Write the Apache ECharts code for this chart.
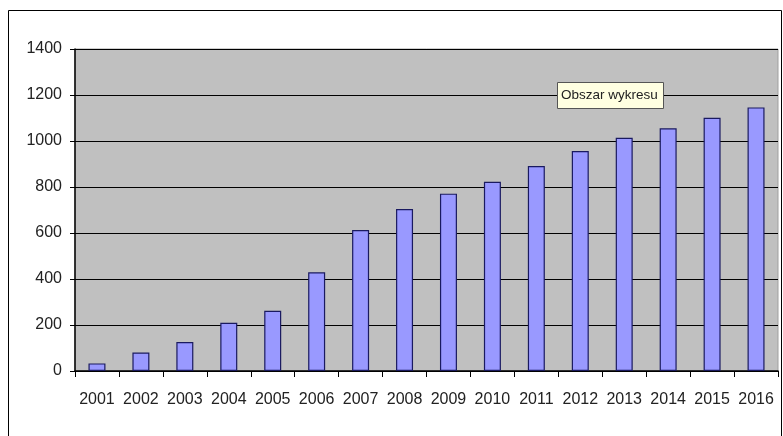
<!DOCTYPE html>
<html>
<head>
<meta charset="utf-8">
<script src="https://cdn.jsdelivr.net/npm/echarts@6/dist/echarts.min.js"></script>
<style>
html,body{margin:0;padding:0;background:#fff;}
#c{width:783px;height:436px;}
</style>
</head>
<body>
<div id="c"></div>
<script>
const categories = ['2001','2002','2003','2004','2005','2006','2007','2008','2009','2010','2011','2012','2013','2014','2015','2016'];
const values = [33, 80, 126, 210, 262, 429, 613, 704, 771, 823, 891, 956, 1014, 1055, 1101, 1146];
const yTicks = [0, 200, 400, 600, 800, 1000, 1200, 1400];

const labelFont = '"Liberation Sans", Arial, sans-serif';
const chart = echarts.init(document.getElementById('c'), null, {renderer: 'canvas'});
chart.setOption({
  animation: false,
  backgroundColor: '#ffffff',
  grid: {left: 75, top: 49, right: 5, bottom: 65, show: true, backgroundColor: '#c0c0c0', borderColor: '#a0a0a0', borderWidth: 1},
  xAxis: {
    type: 'category',
    data: categories,
    axisLine: {lineStyle: {color: '#000', width: 1.5}},
    axisTick: {show: true, length: 6, lineStyle: {color: '#000'}},
    axisLabel: {color: '#222', fontFamily: labelFont, fontSize: 16, margin: 21, interval: 0}
  },
  yAxis: {
    type: 'value',
    min: yTicks[0],
    max: yTicks[yTicks.length - 1],
    interval: 200,
    axisLine: {show: true, lineStyle: {color: '#000', width: 1.5}},
    axisTick: {show: true, length: 5, lineStyle: {color: '#000'}},
    splitLine: {lineStyle: {color: '#000', width: 1.2}},
    axisLabel: {color: '#222', fontFamily: labelFont, fontSize: 16, margin: 13, formatter: v => String(v)}
  },
  series: [{
    type: 'bar',
    data: values,
    barWidth: 17,
    itemStyle: {color: '#9999ff', borderColor: '#1a1a60', borderWidth: 1.2}
  }],
  graphic: [
    {type: 'rect', z: 100, shape: {x: 8.5, y: 10.5, width: 773, height: 440}, style: {fill: 'none', stroke: '#000', lineWidth: 1}},
    {type: 'rect', z: 100, shape: {x: 557.5, y: 82.5, width: 106, height: 26}, style: {fill: '#ffffe1', stroke: '#555', lineWidth: 1}},
    {type: 'text', z: 101, x: 561, y: 95, style: {text: 'Obszar wykresu', fill: '#222', font: '13.5px "Liberation Sans", Arial', verticalAlign: 'middle'}}
  ]
});
</script>
</body>
</html>
